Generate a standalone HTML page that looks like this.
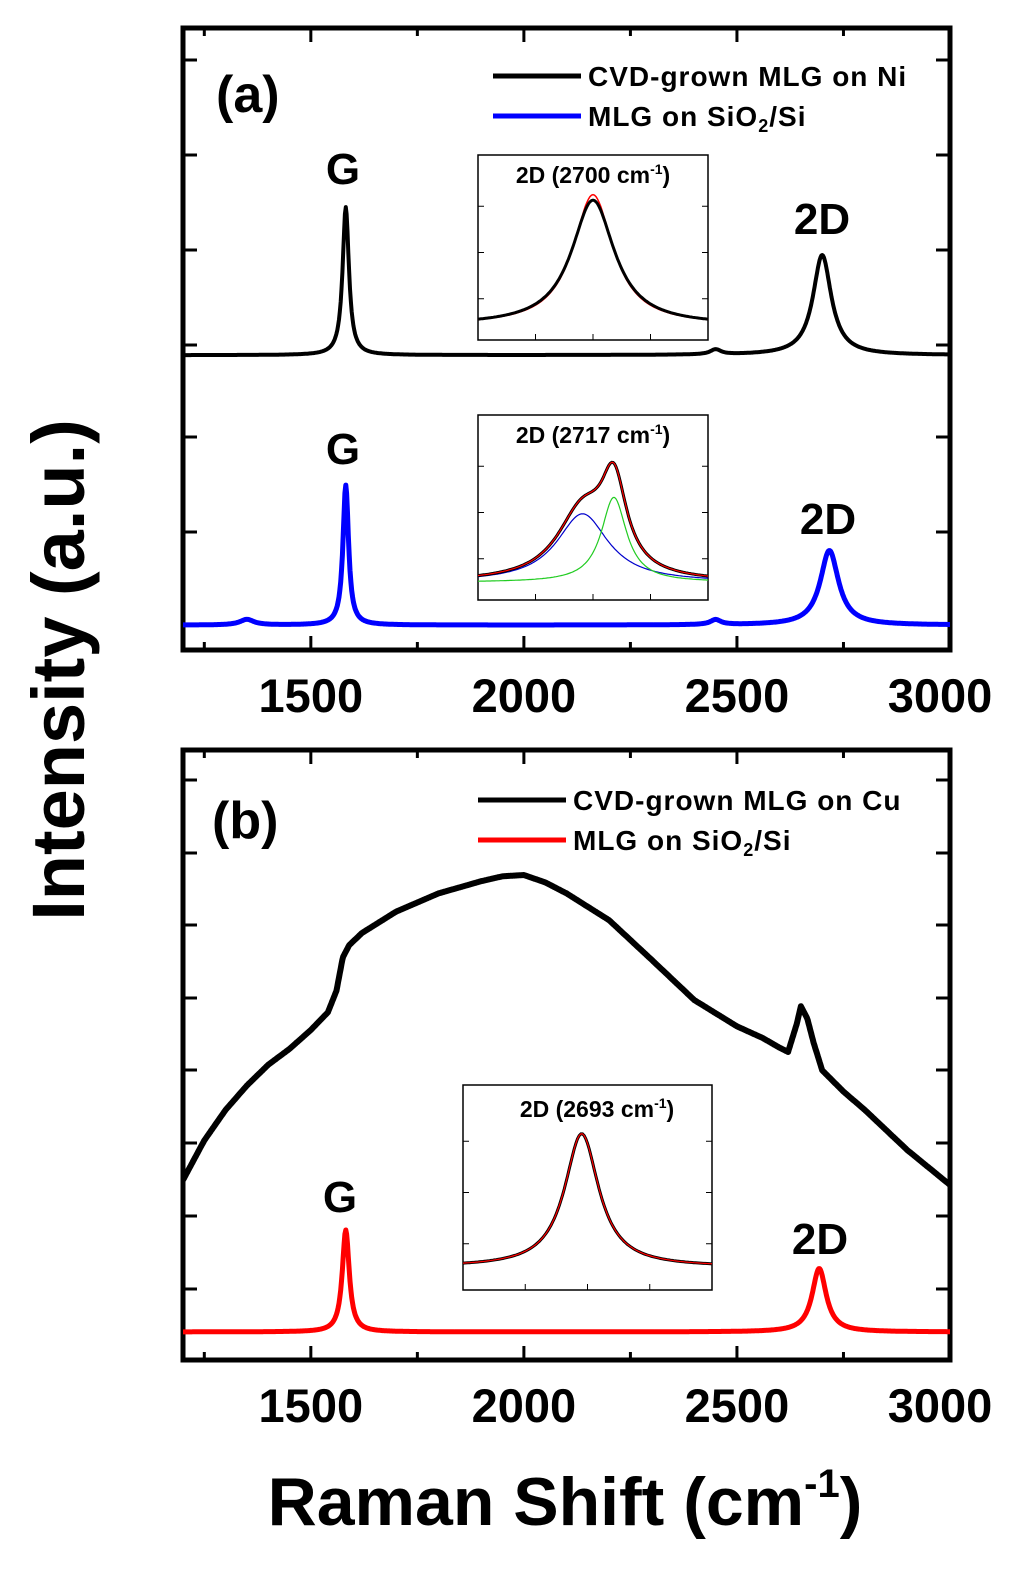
<!DOCTYPE html>
<html><head><meta charset="utf-8"><style>
html,body{margin:0;padding:0;background:#fff}
svg{display:block;font-family:"Liberation Sans",Arial,sans-serif}
</style></head><body>
<svg id="chart" width="1024" height="1576" viewBox="0 0 1024 1576">
<g id="root"></g>
</svg>
<script>
// ---- data ----
const xTicks = [1500, 2000, 2500, 3000];
const xMinorTicks = [1250, 1750, 2250, 2750];
// peaks: [center, height, halfwidth]
const niBaseline = 47.4;
const niPeaks = [[1582, 23.8, 9], [2700, 16.1, 26], [2450, 0.8, 15]];
const sioNiBaseline = 4;
const sioNiPeaks = [[1582, 22.5, 8], [2717, 12, 26], [1350, 0.9, 20], [2450, 0.8, 15]];
const cuBgX = [1200,1250,1300,1350,1400,1450,1500,1540,1560,1575,1590,1620,1700,1800,1900,1950,2000,2050,2100,2200,2300,2400,2500,2560,2600,2620,2640,2650,2665,2680,2700,2750,2800,2900,3000];
const cuBgY = [29.5,36,41,45,48.4,51,54.1,57,60.5,66,68,70,73.5,76.5,78.5,79.3,79.5,78.3,76.5,72.1,65.6,59,54.7,52.8,51.2,50.5,55,58,56,52,47.5,44,41,34.4,28.7];
const sioCuBaseline = 4.6;
const sioCuPeaks = [[1582, 16.7, 10], [2693, 10.4, 20]];
// insets (normalized)
const insetA1Peaks = [[2700, 0.92, 34]];
const insetA1Fit = [[2700, 0.96, 32]];
const insetA2Comp1 = [[2700, 0.5, 45]];
const insetA2Comp2 = [[2745, 0.62, 22]];
const insetB1Peaks = [[2693, 0.92, 25]];

const NS="http://www.w3.org/2000/svg";
const root=document.getElementById('root');
function el(tag,attrs,parent){const e=document.createElementNS(NS,tag);for(const k in attrs)e.setAttribute(k,attrs[k]);(parent||root).appendChild(e);return e;}
function lor(x,peaks){let s=0;for(const p of peaks){const d=(x-p[0])/p[2];s+=p[1]/(1+d*d);}return s;}
function linInterp(x,xs,ys){for(let i=0;i<xs.length-1;i++){if(x<=xs[i+1]){const t=(x-xs[i])/(xs[i+1]-xs[i]);return ys[i]+t*(ys[i+1]-ys[i]);}}return ys[ys.length-1];}

function panel(name,top,bottom,yTickYs){
  const L=183,R=950;
  const g=el('g',{});
  
  
  const xs=v=>L+(v-1200)/(1800)*(R-L);
  const ys=v=>bottom-v/100*(bottom-top);
  const frame=el('rect',{x:L,y:top,width:R-L,height:bottom-top,fill:'none',stroke:'#000','stroke-width':5},g);
  
  
  for(const t of xTicks){ if(t<3000){el('line',{x1:xs(t),x2:xs(t),y1:bottom,y2:bottom-14,stroke:'#000','stroke-width':3},g);el('line',{x1:xs(t),x2:xs(t),y1:top,y2:top+14,stroke:'#000','stroke-width':3},g);}}
  for(const t of xMinorTicks){el('line',{x1:xs(t),x2:xs(t),y1:bottom,y2:bottom-8,stroke:'#000','stroke-width':3},g);el('line',{x1:xs(t),x2:xs(t),y1:top,y2:top+8,stroke:'#000','stroke-width':3},g);}
  for(const y of yTickYs){el('line',{x1:L,x2:L+14,y1:y,y2:y,stroke:'#000','stroke-width':3},g);el('line',{x1:R,x2:R-14,y1:y,y2:y,stroke:'#000','stroke-width':3},g);}
  for(const t of xTicks){const tx=el('text',{x:xs(t)+(t==3000?-10:0),y:bottom+62,'text-anchor':'middle','font-size':47,'font-weight':'bold'},g);tx.textContent=t;
    
    }
  return {g,xs,ys};
}
function curve(p,fn,color,w,name){
  let d='';for(let x=1200;x<=3000;x+=2){d+=(d?'L':'M')+p.xs(x).toFixed(1)+','+p.ys(fn(x)).toFixed(1);}
  const e=el('path',{d,fill:'none',stroke:color,'stroke-width':w,'stroke-linejoin':'round'},p.g);
  
  
}
function text(x,y,s,size,name,anchor){const t=el('text',{x,y,'font-size':size,'font-weight':'bold','text-anchor':anchor||'start'});t.textContent=s;
  
  return t;}
function legend(x,y,color,label,name){
  const g=el('g',{});
  
  
  el('line',{x1:x,x2:x+88,y1:y,y2:y,stroke:color,'stroke-width':5},g);
  const t=el('text',{x:x+95,y:y+10,'font-size':28,'font-weight':'bold','letter-spacing':'1'},g);t.innerHTML=label;
}
function inset(name,x0,y0,w,h,lo,hi,base,top,series){
  const g=el('g',{});
  
  
  el('rect',{x:x0,y:y0,width:w,height:h,fill:'#fff',stroke:'#000','stroke-width':1.5},g);
  const xs=v=>x0+(v-lo)/(hi-lo)*w, ys=v=>base-v*(base-top);
  for(let i=1;i<4;i++){const tx=x0+w*i/4;el('line',{x1:tx,x2:tx,y1:y0+h,y2:y0+h-6,stroke:'#000'},g);}
  for(let i=1;i<4;i++){const ty=y0+h*i/4+5;el('line',{x1:x0,x2:x0+6,y1:ty,y2:ty,stroke:'#000'},g);el('line',{x1:x0+w,x2:x0+w-6,y1:ty,y2:ty,stroke:'#000'},g);}
  for(const s of series){let d='';for(let x=lo;x<=hi;x+=2){d+=(d?'L':'M')+xs(x).toFixed(1)+','+ys(lor(x,s.peaks)+0.02).toFixed(1);}
    const e=el('path',{d,fill:'none',stroke:s.color,'stroke-width':s.w},g);
    
    }
  return g;
}

// Panel (a)
const pa=panel('panel-a',28,650,[60,155,250,345,437,532,625]);
curve(pa,x=>niBaseline+lor(x,niPeaks),'#000',4,'ni-mlg-spectrum');
curve(pa,x=>sioNiBaseline+lor(x,sioNiPeaks),'#0000ff',5,'ni-transferred-spectrum');
text(216,112,'(a)',52,'panel-a-label');
text(343,184,'G',44,'g-peak-label','middle');
text(822,234,'2D',44,'2d-peak-label','middle');
text(343,464,'G',44,'g-peak-label-blue','middle');
text(828,534,'2D',44,'2d-peak-label-blue','middle');
legend(493,76,'#000','CVD-grown MLG on Ni','legend-ni');
legend(493,116,'#0000ff','MLG on SiO<tspan font-size="18" dy="6">2</tspan><tspan dy="-6">/Si</tspan>','legend-sio2-a');
inset('inset-a1',478,155,230,185,2550,2850,328,192,[{peaks:insetA1Fit,color:'#ff0000',w:1.5,name:'fit'},{peaks:insetA1Peaks,color:'#000',w:3,name:'data'}]);
text(593,183,'x',23,'inset-a1-title','middle').innerHTML='2D (2700 cm<tspan font-size="14" dy="-9">-1</tspan><tspan dy="9">)</tspan>';
inset('inset-a2',478,415,230,185,2550,2880,585,448,[{peaks:insetA2Comp1,color:'#0000cc',w:1.2,name:'component-1'},{peaks:insetA2Comp2,color:'#22cc22',w:1.2,name:'component-2'},{peaks:insetA2Comp1.concat(insetA2Comp2),color:'#000',w:3,name:'data'},{peaks:insetA2Comp1.concat(insetA2Comp2),color:'#ff0000',w:1.2,name:'fit'}]);
text(593,443,'x',23,'inset-a2-title','middle').innerHTML='2D (2717 cm<tspan font-size="14" dy="-9">-1</tspan><tspan dy="9">)</tspan>';

// Panel (b)
const pb=panel('panel-b',750,1360,[780,853,925,998,1070,1143,1216,1289]);
curve(pb,x=>linInterp(x,cuBgX,cuBgY),'#000',6,'cu-mlg-spectrum');
curve(pb,x=>sioCuBaseline+lor(x,sioCuPeaks),'#ff0000',5,'cu-transferred-spectrum');
text(212,838,'(b)',52,'panel-b-label');
text(340,1212,'G',44,'g-peak-label-b','middle');
text(820,1254,'2D',44,'2d-peak-label-b','middle');
legend(478,800,'#000','CVD-grown MLG on Cu','legend-cu');
legend(478,840,'#ff0000','MLG on SiO<tspan font-size="18" dy="6">2</tspan><tspan dy="-6">/Si</tspan>','legend-sio2-b');
inset('inset-b1',463,1085,249,205,2550,2850,1270,1125,[{peaks:insetB1Peaks,color:'#000',w:3,name:'data'},{peaks:insetB1Peaks,color:'#ff0000',w:1.2,name:'fit'}]);
text(597,1117,'x',23,'inset-b1-title','middle').innerHTML='2D (2693 cm<tspan font-size="14" dy="-9">-1</tspan><tspan dy="9">)</tspan>';

// Axis titles
const yt=text(0,0,'Intensity (a.u.)',74,'y-axis-title','middle');
yt.setAttribute('transform','translate(84,670) rotate(-90)');
text(565,1525,'x',68,'x-axis-title','middle').innerHTML='Raman Shift (cm<tspan font-size="40" dy="-28">-1</tspan><tspan dy="28">)</tspan>';
</script>
</body></html>
